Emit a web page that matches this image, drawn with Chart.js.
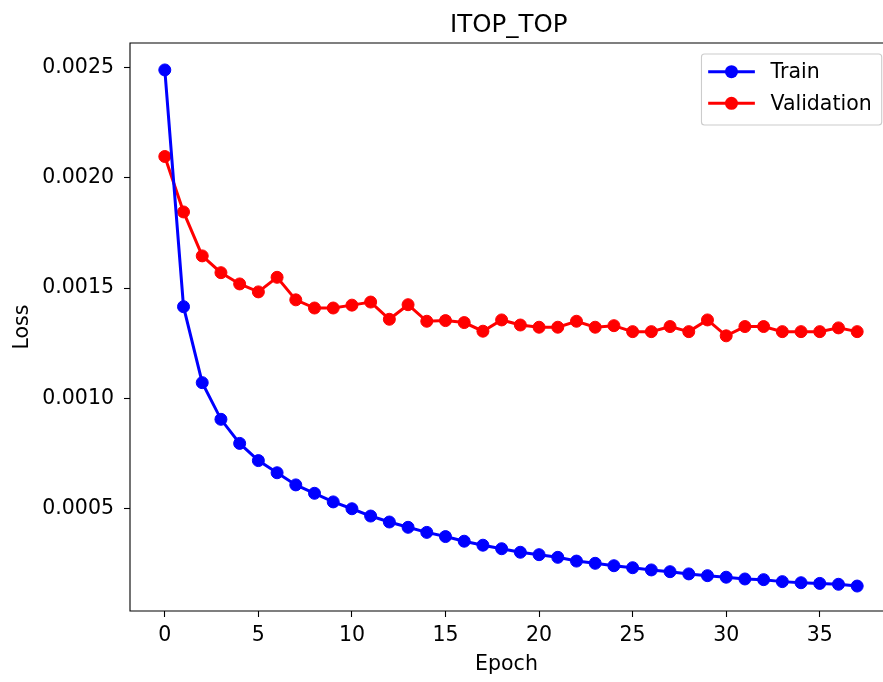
<!DOCTYPE html>
<html>
<head>
<meta charset="utf-8">
<script src="https://cdn.jsdelivr.net/npm/chart.js@4"></script>
<style>
  html, body { margin: 0; padding: 0; background: #fff; overflow: hidden; }
  canvas { display: block; }
</style>
</head>
<body>
<canvas id="loss-chart" width="883" height="682"></canvas>
<script>
const chartTitle = 'ITOP_TOP';
const epochs = [0, 1, 2, 3, 4, 5, 6, 7, 8, 9, 10, 11, 12, 13, 14, 15, 16, 17, 18, 19,
                20, 21, 22, 23, 24, 25, 26, 27, 28, 29, 30, 31, 32, 33, 34, 35, 36, 37];
const trainLoss = [0.002488, 0.001416, 0.001072, 0.000906, 0.000797, 0.000719, 0.000664, 0.000609,
                   0.000571, 0.000532, 0.000501, 0.000468, 0.000441, 0.000417, 0.000394, 0.000375,
                   0.000354, 0.000336, 0.000320, 0.000304, 0.000293, 0.000281, 0.000264, 0.000254,
                   0.000243, 0.000234, 0.000224, 0.000216, 0.000206, 0.000198, 0.000191, 0.000183,
                   0.000180, 0.000171, 0.000166, 0.000163, 0.000159, 0.000151];
const validLoss = [0.002096, 0.001845, 0.001646, 0.001570, 0.001519, 0.001483, 0.001549, 0.001447,
                   0.001410, 0.001410, 0.001423, 0.001437, 0.001359, 0.001425, 0.001350, 0.001353,
                   0.001344, 0.001305, 0.001356, 0.001333, 0.001323, 0.001323, 0.001350, 0.001323,
                   0.001330, 0.001303, 0.001303, 0.001326, 0.001303, 0.001356, 0.001284, 0.001326,
                   0.001326, 0.001303, 0.001303, 0.001303, 0.001320, 0.001303];
const xTicks = [0, 5, 10, 15, 20, 25, 30, 35];
const yTicks = [0.0005, 0.0010, 0.0015, 0.0020, 0.0025];

const FONT = '"DejaVu Sans", sans-serif';

function points(ys) {
  return epochs.map((e, i) => ({ x: e, y: ys[i] }));
}

function series(label, ys, color) {
  return {
    label: label,
    data: points(ys),
    borderColor: color,
    backgroundColor: color,
    borderWidth: 3,
    pointRadius: 6,
    pointBorderWidth: 1,
    pointHoverRadius: 6,
    tension: 0
  };
}

// left/top/bottom spines, title and matplotlib-like legend
// (the right spine falls just past the canvas edge)
const frameAndLegend = {
  id: 'frameAndLegend',
  afterDraw(chart) {
    const ctx = chart.ctx;
    const a = chart.chartArea;
    ctx.save();

    ctx.strokeStyle = '#000';
    ctx.lineWidth = 1.1;
    ctx.beginPath();
    ctx.moveTo(a.right + 2, a.top);
    ctx.lineTo(a.left, a.top);
    ctx.lineTo(a.left, a.bottom);
    ctx.lineTo(a.right + 2, a.bottom);
    ctx.stroke();

    ctx.fillStyle = '#000';
    ctx.font = '24.5px ' + FONT;
    ctx.textAlign = 'center';
    ctx.textBaseline = 'alphabetic';
    ctx.fillText(chartTitle, 508.7, a.top - 11.5);

    const fs = 20.5;
    ctx.font = fs + 'px ' + FONT;
    const sets = chart.data.datasets;
    const textW = Math.max(...sets.map(d => ctx.measureText(d.label).width));
    const rowH = 31.6;
    const boxW = 69 + textW + 10;
    const boxH = 71;
    const right = a.right - 1.3;
    const top = a.top + 11;
    const left = right - boxW;

    ctx.beginPath();
    ctx.roundRect(left, top, boxW, boxH, 3);
    ctx.fillStyle = 'rgba(255,255,255,0.8)';
    ctx.fill();
    ctx.strokeStyle = '#cccccc';
    ctx.lineWidth = 1.1;
    ctx.stroke();

    sets.forEach((ds, i) => {
      const cy = top + 17.7 + i * rowH;
      ctx.strokeStyle = ds.borderColor;
      ctx.lineWidth = 3;
      ctx.beginPath();
      ctx.moveTo(left + 6.7, cy);
      ctx.lineTo(left + 53.4, cy);
      ctx.stroke();
      ctx.fillStyle = ds.borderColor;
      ctx.beginPath();
      ctx.arc(left + 30, cy, 6.5, 0, Math.PI * 2);
      ctx.fill();
      ctx.fillStyle = '#000';
      ctx.textAlign = 'left';
      ctx.textBaseline = 'middle';
      ctx.fillText(ds.label, left + 69, cy + 1);
    });
    ctx.restore();
  }
};

new Chart(document.getElementById('loss-chart').getContext('2d'), {
  type: 'line',
  data: {
    datasets: [
      series('Train', trainLoss, '#0000ff'),
      series('Validation', validLoss, '#ff0000')
    ]
  },
  options: {
    responsive: false,
    animation: false,
    devicePixelRatio: 1,
    layout: { autoPadding: false, padding: { top: 43, right: 0, bottom: 0, left: 0 } },
    plugins: {
      legend: { display: false },
      tooltip: { enabled: false },
      title: { display: false }
    },
    scales: {
      x: {
        type: 'linear',
        min: -1.86,
        max: 38.38,
        afterBuildTicks: s => { s.ticks = xTicks.map(v => ({ value: v })); },
        afterFit: s => {
          s.height = 71;
          s.paddingLeft = 0;
          s.paddingRight = 0;
        },
        ticks: {
          color: '#000',
          font: { family: FONT, size: 20.5 },
          padding: 6.5,
          maxRotation: 0,
          callback: v => String(v)
        },
        grid: {
          drawOnChartArea: false,
          drawTicks: true,
          tickLength: 6,
          tickColor: '#000',
          tickWidth: 1.1
        },
        border: { display: false },
        title: {
          display: true,
          text: 'Epoch',
          color: '#000',
          font: { family: FONT, size: 20.5 },
          padding: { top: 0, bottom: 4.7 }
        }
      },
      y: {
        type: 'linear',
        min: 0.000038,
        max: 0.00261,
        afterBuildTicks: s => { s.ticks = yTicks.map(v => ({ value: v })); },
        afterFit: s => {
          s.width = 130;
          s.paddingTop = 0;
          s.paddingBottom = 0;
        },
        ticks: {
          color: '#000',
          font: { family: FONT, size: 20.5 },
          padding: 10,
          callback: v => v.toFixed(4)
        },
        grid: {
          drawOnChartArea: false,
          drawTicks: true,
          tickLength: 6,
          tickColor: '#000',
          tickWidth: 1.1
        },
        border: { display: false },
        title: {
          display: true,
          text: 'Loss',
          color: '#000',
          font: { family: FONT, size: 20.5 },
          padding: { top: 10, bottom: 0 }
        }
      }
    }
  },
  plugins: [frameAndLegend]
});
</script>
</body>
</html>
